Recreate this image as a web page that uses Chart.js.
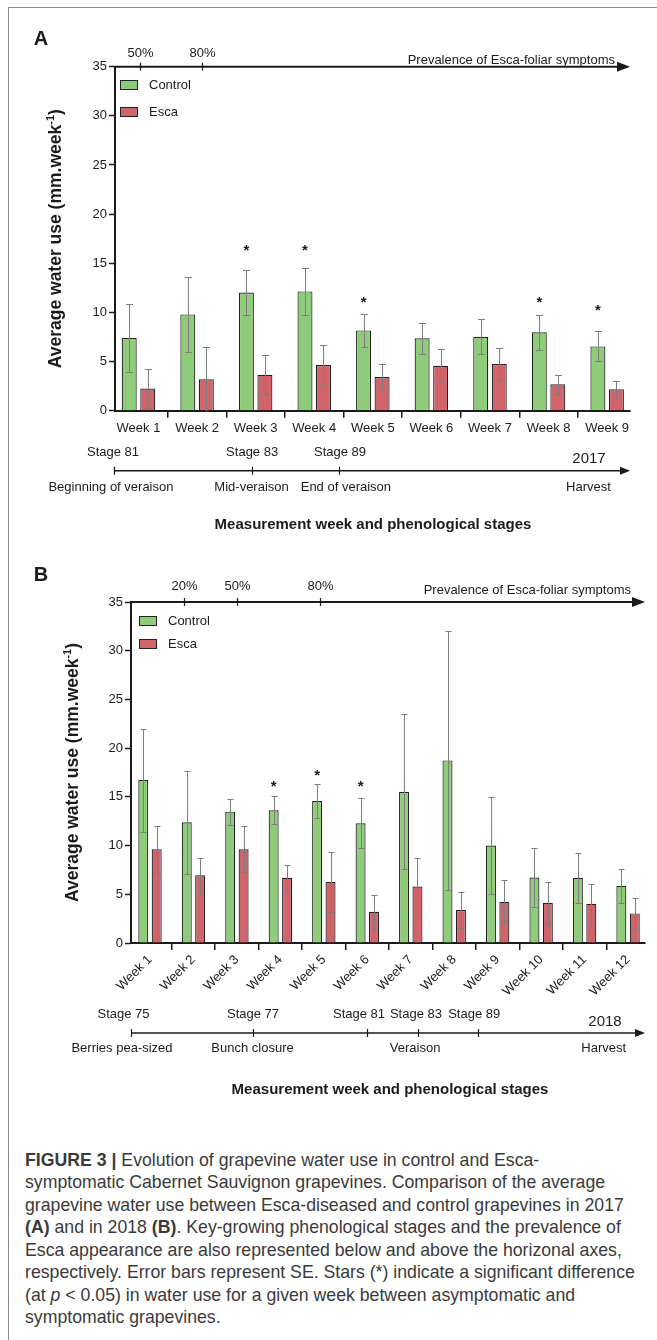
<!DOCTYPE html>
<html><head><meta charset="utf-8">
<script src="https://cdn.jsdelivr.net/npm/chart.js@4.4.1/dist/chart.umd.min.js"></script>
<style>
html,body{margin:0;padding:0;background:#fff;}
body{width:657px;height:1340px;position:relative;overflow:hidden;font-family:"Liberation Sans",Arial,Helvetica,sans-serif;}
#frame{position:absolute;left:8px;top:7px;width:700px;height:1400px;border-left:1.5px solid #8c8c8c;border-top:1.5px solid #8c8c8c;}
canvas{position:absolute;left:0;}
#caption{position:absolute;left:25px;top:1148.75px;font-size:17.7px;line-height:22.5px;color:#3a3a3a;white-space:nowrap;}
</style></head><body>
<div id="frame"></div>
<canvas id="cA" width="657" height="560" style="top:0px"></canvas>
<canvas id="cB" width="657" height="560" style="top:560px"></canvas>
<div id="caption">
<div><b>FIGURE 3 |</b> Evolution of grapevine water use in control and Esca-</div>
<div>symptomatic Cabernet Sauvignon grapevines. Comparison of the average</div>
<div>grapevine water use between Esca-diseased and control grapevines in 2017</div>
<div><b>(A)</b> and in 2018 <b>(B)</b>. Key-growing phenological stages and the prevalence of</div>
<div>Esca appearance are also represented below and above the horizonal axes,</div>
<div>respectively. Error bars represent SE. Stars (*) indicate a significant difference</div>
<div>(at <i>p</i> &lt; 0.05) in water use for a given week between asymptomatic and</div>
<div>symptomatic grapevines.</div>
</div>
<script>
// ---------------- DATA ----------------
const yTicks = [0, 5, 10, 15, 20, 25, 30, 35];
const seriesNames = ['Control', 'Esca'];

// Panel A (2017)
const weeksA = ['Week 1','Week 2','Week 3','Week 4','Week 5','Week 6','Week 7','Week 8','Week 9'];
const controlA   = [7.39, 9.80, 12.03, 12.14, 8.17, 7.36, 7.53, 7.97, 6.54];
const controlSeA = [3.44, 3.83, 2.25, 2.40, 1.68, 1.56, 1.75, 1.77, 1.52];
const escaA      = [2.26, 3.19, 3.66, 4.64, 3.42, 4.58, 4.75, 2.68, 2.17];
const escaSeA    = [2.00, 3.28, 1.97, 2.05, 1.35, 1.65, 1.62, 0.93, 0.83];
const starA      = [null, null, 16.7, 16.7, 11.4, null, null, 11.4, 10.6];
const prevalenceLabelsA = ['50%', '80%'];
const prevalenceWeekA   = [1.02, 2.08];
const stageLabelsA    = ['Stage 81', 'Stage 83', 'Stage 89'];
const stageTickWeekA  = [0.58, 2.94, 4.42];
const stageLabelWeekA = [0.565, 2.94, 4.44];
const phaseLabelsA = ['Beginning of veraison', 'Mid-veraison', 'End of veraison', 'Harvest'];
const phaseWeekA   = [0.53, 2.93, 4.54, 8.68];
const yearA = '2017';
const yearWeekA = 8.69;

// Panel B (2018)
const weeksB = ['Week 1','Week 2','Week 3','Week 4','Week 5','Week 6','Week 7','Week 8','Week 9','Week 10','Week 11','Week 12'];
const controlB   = [16.72, 12.39, 13.48, 13.62, 14.57, 12.29, 15.53, 18.74, 10.00, 6.72, 6.66, 5.87];
const controlSeB = [5.28, 5.27, 1.33, 1.44, 1.76, 2.55, 7.95, 13.30, 4.96, 2.99, 2.54, 1.73];
const escaB      = [9.62, 6.96, 9.62, 6.69, 6.25, 3.21, 5.80, 3.38, 4.23, 4.13, 4.03, 3.04];
const escaSeB    = [2.43, 1.78, 2.34, 1.35, 3.08, 1.76, 2.92, 1.83, 2.22, 2.13, 2.03, 1.56];
const starB      = [null, null, null, 16.45, 17.6, 16.45, null, null, null, null, null, null];
const prevalenceLabelsB = ['20%', '50%', '80%'];
const prevalenceWeekB   = [1.78, 3.0, 4.92];
const stageLabelsB    = ['Stage 75', 'Stage 77', 'Stage 81', 'Stage 83', 'Stage 89'];
const stageTickWeekB  = [0.563, 3.37, 5.985, 7.16, 8.54];
const stageLabelWeekB = [0.39, 3.37, 5.81, 7.12, 8.46];
const phaseLabelsB = ['Berries pea-sized', 'Bunch closure', 'Veraison', 'Harvest'];
const phaseWeekB   = [0.356, 3.36, 7.1, 11.44];
const yearB = '2018';
const yearWeekB = 11.47;

const prevalenceTitle = 'Prevalence of Esca-foliar symptoms';
const xTitle = 'Measurement week and phenological stages';
const yTitleMain = 'Average water use (mm.week';
const yTitleSup = '-1';

// ---------------- STYLE ----------------
const FONT = '"Liberation Sans", Arial, Helvetica, sans-serif';
const INK = '#1b1b1b';
const GREEN = '#8fcc7a';
const RED = '#d1636b';
const EDGE = '#222222';
const ERR = '#7d7d7d';

function txt(ctx, s, x, y, font, align, color) {
  ctx.font = font; ctx.fillStyle = color || INK;
  ctx.textAlign = align || 'center'; ctx.textBaseline = 'middle';
  ctx.fillText(s, x, y);
}

function decor(P, L) {
  return {
    id: 'decor',
    afterDatasetsDraw(chart) {
      const ctx = chart.ctx, ys = chart.scales.y;
      chart.data.datasets.forEach((ds, di) => {
        const meta = chart.getDatasetMeta(di);
        meta.data.forEach((bar, i) => {
          const v = ds.data[i].y, se = ds.errors[i];
          const x = Math.round(bar.x) + 0.5;
          const yt = Math.round(ys.getPixelForValue(v + se)) + 0.5;
          const lo = v - se;
          const yb = Math.round(ys.getPixelForValue(Math.max(lo, 0))) + 0.5;
          ctx.save();
          ctx.strokeStyle = ERR; ctx.lineWidth = 1;
          ctx.beginPath();
          ctx.moveTo(x, yt); ctx.lineTo(x, yb);
          ctx.moveTo(x - L.cap, yt); ctx.lineTo(x + L.cap, yt);
          if (lo > 0) { ctx.moveTo(x - L.cap, yb); ctx.lineTo(x + L.cap, yb); }
          ctx.stroke();
          ctx.restore();
        });
      });
      const cm = chart.getDatasetMeta(0);
      ctx.save();
      ctx.fillStyle = INK; ctx.font = 'bold 15px ' + FONT;
      ctx.textAlign = 'center'; ctx.textBaseline = 'alphabetic';
      P.stars.forEach((s, i) => {
        if (s == null) return;
        const y = ys.getPixelForValue(s);
        ctx.fillText('*', cm.data[i].x, y + 0.58 * 15);
      });
      ctx.restore();
    },
    afterDraw(chart) {
      const ctx = chart.ctx, ca = chart.chartArea, xs = chart.scales.x;
      ctx.save();
      // panel letter
      txt(ctx, P.letter, 41, L.letterY, 'bold 20px ' + FONT);
      // top prevalence axis
      const yT = ca.top, xr = ca.right;
      ctx.strokeStyle = INK; ctx.fillStyle = INK; ctx.lineWidth = 2;
      ctx.beginPath(); ctx.moveTo(ca.left, yT); ctx.lineTo(xr - 8, yT); ctx.stroke();
      ctx.beginPath(); ctx.moveTo(xr, yT); ctx.lineTo(xr - 13, yT - 5); ctx.lineTo(xr - 13, yT + 5); ctx.closePath(); ctx.fill();
      ctx.lineWidth = 1.2;
      P.prevWeek.forEach((w, i) => {
        const x = Math.round(xs.getPixelForValue(w)) + 0.5;
        ctx.beginPath(); ctx.moveTo(x, yT - 4); ctx.lineTo(x, yT + 4); ctx.stroke();
        txt(ctx, P.prevLabels[i], x, yT + L.pctDy, '13px ' + FONT);
      });
      txt(ctx, prevalenceTitle, xr - L.prevDx, yT + L.prevDy, '13px ' + FONT, 'right');
      // legend
      chart.data.datasets.forEach((ds, i) => {
        const bx = ca.left + L.legDx, by = ca.top + L.legDy0 + i * L.legStep;
        ctx.fillStyle = ds.backgroundColor;
        ctx.fillRect(bx, by - 5, 18, 10);
        ctx.strokeStyle = EDGE; ctx.lineWidth = 1;
        ctx.strokeRect(bx + 0.5, by - 4.5, 17, 9);
        txt(ctx, ds.label, bx + 29, by, '13px ' + FONT, 'left');
      });
      // y title with superscript
      ctx.save();
      ctx.translate(L.yTitleX, (ca.top + ca.bottom) / 2);
      ctx.rotate(-Math.PI / 2);
      const f1 = 'bold 17.5px ' + FONT, f2 = 'bold 11px ' + FONT;
      ctx.font = f1; const wa = ctx.measureText(yTitleMain).width, wc = ctx.measureText(')').width;
      ctx.font = f2; const wb = ctx.measureText(yTitleSup).width;
      const x0 = -(wa + wb + wc) / 2;
      ctx.fillStyle = INK; ctx.textAlign = 'left'; ctx.textBaseline = 'alphabetic';
      ctx.font = f1; ctx.fillText(yTitleMain, x0, 6);
      ctx.font = f2; ctx.fillText(yTitleSup, x0 + wa, -1.5);
      ctx.font = f1; ctx.fillText(')', x0 + wa + wb, 6);
      ctx.restore();
      // phenology band
      const yl = ca.bottom + L.lineDy;
      const xs0 = xs.getPixelForValue(P.stageTick[0]);
      ctx.strokeStyle = INK; ctx.fillStyle = INK; ctx.lineWidth = 1.5;
      ctx.beginPath(); ctx.moveTo(xs0, yl); ctx.lineTo(xr - 8, yl); ctx.stroke();
      ctx.beginPath(); ctx.moveTo(xr, yl); ctx.lineTo(xr - 10, yl - 4); ctx.lineTo(xr - 10, yl + 4); ctx.closePath(); ctx.fill();
      ctx.lineWidth = 1.2;
      P.stageTick.forEach((w) => {
        const x = Math.round(xs.getPixelForValue(w)) + 0.5;
        ctx.beginPath(); ctx.moveTo(x, yl - 4); ctx.lineTo(x, yl + 4); ctx.stroke();
      });
      P.stageLabels.forEach((s, i) => txt(ctx, s, xs.getPixelForValue(P.stageLabelWeek[i]), ca.bottom + L.stageDy, '13px ' + FONT));
      P.phaseLabels.forEach((s, i) => txt(ctx, s, xs.getPixelForValue(P.phaseWeek[i]), ca.bottom + L.phaseDy, '13px ' + FONT));
      txt(ctx, P.year, xs.getPixelForValue(P.yearWeek), ca.bottom + L.yearDy, '15px ' + FONT);
      txt(ctx, xTitle, L.titleX, ca.bottom + L.titleDy, 'bold 15px ' + FONT);
      ctx.restore();
    }
  };
}

function panelChart(id, P, L) {
  const mk = (vals) => vals.map((v, i) => ({ x: i + 1, y: v }));
  return new Chart(document.getElementById(id), {
    type: 'bar',
    data: {
      datasets: [
        { label: seriesNames[0], data: mk(P.control), errors: P.controlSe, backgroundColor: GREEN, borderColor: EDGE, borderWidth: 1.2, categoryPercentage: L.catPct, barPercentage: L.barPct },
        { label: seriesNames[1], data: mk(P.esca), errors: P.escaSe, backgroundColor: RED, borderColor: EDGE, borderWidth: 1.2, categoryPercentage: L.catPct, barPercentage: L.barPct }
      ]
    },
    options: {
      responsive: false, animation: false, devicePixelRatio: 1,
      layout: { padding: { left: 0, right: L.padRight, top: L.padTop, bottom: 0 } },
      plugins: { legend: { display: false }, tooltip: { enabled: false } },
      scales: {
        x: {
          type: 'linear', min: L.xMin, max: L.xMax, offset: false,
          afterBuildTicks: (s) => { s.ticks = P.weeks.map((w, i) => ({ value: i + 1 })); },
          afterFit: (s) => { s.height = L.xAxisH; },
          ticks: { autoSkip: false, maxRotation: L.rot, minRotation: L.rot, padding: L.xPad, color: INK, font: { family: FONT, size: 13 },
                   callback: (v) => P.weeks[Math.round(v) - 1] || '' },
          grid: { drawOnChartArea: false, drawTicks: true, tickLength: 7, tickWidth: 1.5, tickColor: INK, color: INK, lineWidth: 1.5 },
          border: { display: true, color: INK, width: 2 }
        },
        y: {
          min: yTicks[0], max: yTicks[yTicks.length - 1],
          afterBuildTicks: (s) => { s.ticks = yTicks.map((v) => ({ value: v })); },
          afterFit: (s) => { s.width = L.yAxisW; },
          ticks: { padding: 2, color: INK, font: { family: FONT, size: 13 } },
          grid: { drawOnChartArea: false, drawTicks: true, tickLength: 6, tickWidth: 1.5, tickColor: INK, color: INK },
          border: { display: true, color: INK, width: 2 }
        }
      }
    },
    plugins: [decor(P, L)]
  });
}

panelChart('cA', {
  letter: 'A', weeks: weeksA, control: controlA, controlSe: controlSeA, esca: escaA, escaSe: escaSeA, stars: starA,
  prevLabels: prevalenceLabelsA, prevWeek: prevalenceWeekA,
  stageLabels: stageLabelsA, stageTick: stageTickWeekA, stageLabelWeek: stageLabelWeekA,
  phaseLabels: phaseLabelsA, phaseWeek: phaseWeekA, year: yearA, yearWeek: yearWeekA
}, {
  padTop: 66.7, padRight: 27, xAxisH: 149.3, yAxisW: 115, xMin: 0.599, xMax: 9.39, rot: 0, xPad: 3,
  catPct: 0.632, barPct: 0.81, cap: 3.5, letterY: 39, pctDy: -13.5, prevDx: 15, prevDy: -6,
  legDx: 5, legDy0: 18.3, legStep: 27, yTitleX: 55,
  stageDy: 42, yearDy: 48.5, lineDy: 60, phaseDy: 76.6, titleDy: 114.5, titleX: 373
});

panelChart('cB', {
  letter: 'B', weeks: weeksB, control: controlB, controlSe: controlSeB, esca: escaB, escaSe: escaSeB, stars: starB,
  prevLabels: prevalenceLabelsB, prevWeek: prevalenceWeekB,
  stageLabels: stageLabelsB, stageTick: stageTickWeekB, stageLabelWeek: stageLabelWeekB,
  phaseLabels: phaseLabelsB, phaseWeek: phaseWeekB, year: yearB, yearWeek: yearWeekB
}, {
  padTop: 42, padRight: 12, xAxisH: 177, yAxisW: 131, xMin: 0.563, xMax: 12.39, rot: 45, xPad: 2,
  catPct: 0.617, barPct: 0.746, cap: 3, letterY: 15, pctDy: -15.5, prevDx: 14, prevDy: -12,
  legDx: 8, legDy0: 19, legStep: 23, yTitleX: 72,
  stageDy: 71, yearDy: 79, lineDy: 90, phaseDy: 105, titleDy: 147, titleX: 390
});
</script>
</body></html>
